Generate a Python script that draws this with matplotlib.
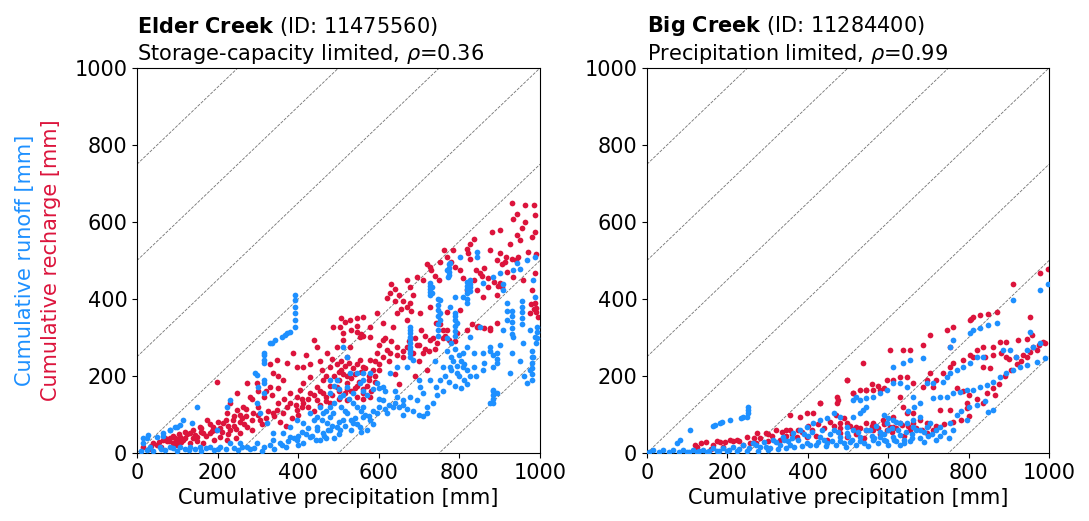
import matplotlib
matplotlib.use('Agg')
import matplotlib.pyplot as plt
import numpy as np

# Elder Creek (ID 11475560): (cumulative precipitation, cumulative flux) in mm
elder_recharge = [
    (930, 650), (963, 644), (986, 644), (942, 622), (934, 609), (988, 618), (880, 575), (900, 579),
    (942, 566), (988, 575), (950, 553), (925, 544), (826, 544), (818, 531), (835, 557), (785, 527),
    (876, 527), (892, 501), (913, 497), (946, 510), (971, 523), (991, 518), (752, 497), (727, 484),
    (801, 475), (851, 467), (810, 454), (835, 449), (900, 441), (934, 458), (958, 449), (988, 467),
    (979, 423), (669, 449), (694, 458), (710, 449), (677, 432), (686, 410), (677, 389), (620, 402),
    (628, 415), (644, 363), (595, 363), (561, 354), (528, 345), (545, 350), (504, 328), (512, 311),
    (545, 315), (578, 328), (611, 337), (636, 328), (669, 345), (702, 363), (727, 380), (768, 367),
    (801, 371), (818, 423), (843, 423), (859, 406), (892, 410), (743, 337), (768, 319), (793, 311),
    (818, 319), (843, 328), (876, 324), (892, 337), (988, 389), (975, 363), (991, 376), (822, 520),
    (826, 505), (955, 585), (962, 600), (980, 560), (918, 470), (905, 490), (860, 480), (870, 430),
    (446, 276), (471, 259), (496, 276), (520, 250), (553, 241), (578, 241), (561, 224), (595, 259),
    (620, 267), (644, 276), (669, 276), (694, 280), (727, 293), (710, 259), (686, 259), (661, 250),
    (628, 259), (611, 293), (578, 302), (553, 302), (528, 276), (479, 224), (462, 189), (446, 172),
    (429, 155), (462, 155), (496, 172), (520, 181), (479, 129), (446, 138), (413, 129), (396, 111),
    (380, 155), (363, 189), (338, 207), (330, 172), (314, 146), (297, 181), (272, 181), (280, 146),
    (247, 155), (264, 120), (231, 129), (223, 103), (198, 185), (247, 111), (347, 111), (338, 103),
    (363, 103), (371, 120), (396, 146), (405, 163), (413, 181), (429, 198), (487, 328), (512, 293),
    (438, 293), (388, 259), (371, 233), (347, 241), (396, 224), (413, 224), (520, 137), (545, 146),
    (561, 155), (578, 146), (540, 205), (505, 215), (470, 200), (455, 240), (420, 255), (600, 230),
    (640, 205), (700, 240), (740, 270), (760, 300), (790, 290), (720, 215), (690, 200), (650, 180),
    (173, 86), (189, 68), (156, 68), (131, 51), (107, 42), (82, 38), (65, 34), (40, 25),
    (16, 16), (214, 77), (231, 59), (206, 42), (181, 51), (148, 42), (115, 34), (90, 25),
    (239, 86), (256, 51), (272, 68), (289, 103), (223, 34), (165, 25), (131, 25), (100, 20),
    (60, 15), (30, 10), (120, 55), (195, 60), (260, 90), (300, 120), (320, 90), (350, 130),
    # denser clusters
    (485, 245), (495, 230), (505, 240), (515, 225), (525, 235), (535, 220), (545, 230), (555, 210),
    (565, 220), (575, 200), (585, 215), (490, 200), (500, 190), (510, 205), (530, 195), (550, 185),
    (570, 175), (590, 185), (480, 175), (500, 160), (520, 165), (540, 170), (560, 140), (580, 160),
    (505, 350), (515, 340), (530, 320), (545, 330), (555, 310), (560, 305), (630, 440), (640, 425),
    (650, 410), (660, 395), (670, 380), (680, 370), (640, 395), (655, 375), (720, 492), (730, 475),
    (740, 460), (750, 449), (762, 527), (770, 510), (780, 495), (790, 484), (840, 475), (855, 460),
    (870, 455), (885, 445), (895, 435), (905, 432), (900, 520), (915, 510), (930, 505), (940, 501),
    (752, 336), (760, 320), (765, 305), (775, 293), (830, 336), (845, 330), (860, 325), (876, 319),
    (978, 388), (985, 375), (990, 365), (995, 354), (600, 280), (615, 300), (630, 290), (705, 320),
    (715, 305), (735, 300), (745, 285), (240, 70), (255, 80), (270, 95), (285, 85), (300, 100),
    (310, 75), (325, 110), (340, 95), (355, 80), (370, 70), (385, 90), (400, 100), (410, 120),
    (425, 140), (440, 110), (455, 125), (470, 145), (150, 30), (170, 45), (190, 35), (210, 55),
    (225, 50), (245, 40), (50, 20), (75, 30), (95, 40), (110, 28), (140, 40), (160, 55),
    (320, 160), (335, 150), (350, 170), (365, 140), (380, 130), (395, 125), (410, 140), (425, 120),
    (440, 150), (455, 160), (470, 135), (485, 150), (500, 140), (515, 155), (530, 160), (545, 175),
    (560, 165), (575, 190), (590, 200), (600, 215), (520, 200), (500, 210), (460, 215), (430, 230),
    (350, 200), (330, 230), (300, 160), (285, 140), (270, 115), (255, 100), (240, 95), (220, 85),
    (200, 80), (180, 75), (160, 65), (140, 60), (125, 50), (105, 50), (90, 45), (70, 40),
    (35, 18), (55, 28), (80, 32), (100, 35), (120, 40), (145, 48), (165, 52), (185, 58),
    (205, 65), (225, 70), (245, 62), (265, 75), (285, 60), (305, 85), (590, 240), (610, 250),
    (625, 240), (645, 255), (660, 265), (675, 290), (690, 300), (700, 280), (715, 270), (725, 265),
]
elder_runoff = [
    (988, 510), (967, 501), (942, 493), (934, 475), (950, 479), (900, 467), (884, 458), (859, 441),
    (843, 523), (843, 510), (826, 449), (826, 432), (818, 415), (810, 406), (789, 406), (777, 493),
    (768, 475), (772, 458), (801, 510), (727, 441), (731, 415), (731, 432), (752, 397), (752, 363),
    (752, 345), (777, 380), (789, 363), (793, 337), (851, 328), (826, 302), (818, 276), (810, 259),
    (835, 259), (859, 259), (876, 276), (892, 259), (884, 224), (859, 215), (835, 224), (810, 224),
    (793, 207), (777, 224), (760, 224), (752, 189), (743, 172), (727, 189), (710, 155), (702, 172),
    (694, 137), (677, 146), (661, 137), (644, 146), (636, 120), (620, 103), (611, 137), (595, 103),
    (578, 86), (561, 94), (553, 68), (537, 77), (520, 103), (512, 86), (496, 68), (479, 59),
    (462, 51), (446, 68), (429, 42), (413, 25), (396, 34), (380, 42), (355, 25), (338, 34),
    (314, 16), (297, 25), (272, 16), (909, 423), (917, 389), (917, 345), (909, 319), (934, 302),
    (958, 285), (975, 319), (988, 302), (991, 285), (983, 250), (975, 215), (979, 189), (967, 181),
    (925, 207), (884, 163), (876, 129), (892, 155), (983, 449), (988, 406), (917, 370), (909, 440),
    (677, 328), (677, 302), (677, 276), (686, 241), (669, 224), (644, 224), (628, 207), (611, 172),
    (595, 181), (578, 207), (561, 207), (553, 181), (537, 155), (520, 172), (504, 146), (479, 120),
    (462, 103), (446, 94), (429, 103), (413, 77), (396, 86), (380, 68), (363, 51), (338, 51),
    (322, 77), (305, 103), (297, 129), (314, 155), (314, 181), (293, 207), (231, 137), (223, 120),
    (148, 120), (115, 86), (99, 68), (82, 60), (65, 51), (49, 42), (24, 38), (16, 25),
    (32, 16), (57, 16), (82, 16), (107, 16), (131, 16), (156, 16), (181, 16), (206, 16),
    (231, 25), (256, 25), (512, 276), (520, 250), (528, 207), (545, 207), (561, 189), (496, 189),
    (479, 155), (454, 120), (438, 86), (446, 60), (471, 77), (487, 103), (470, 40), (500, 50),
    (530, 60), (560, 120), (600, 140), (640, 160), (700, 190), (740, 240), (780, 250), (820, 180),
    (840, 200), (860, 235), (900, 280), (930, 260), (950, 240), (960, 200), (720, 120), (660, 100),
    (314, 259), (314, 241), (330, 285), (334, 285), (359, 302), (371, 311), (392, 410), (392, 397),
    (392, 380), (392, 363), (392, 345), (392, 328), (314, 189), (301, 172), (16, 38), (28, 47),
    (65, 43), (82, 60), (94, 68), (107, 73), (136, 79), (198, 60), (297, 203), (314, 233),
    (314, 255), (343, 294), (367, 307), (380, 315), (10, 5), (40, 5), (70, 8), (100, 5),
    (130, 8), (160, 5), (190, 8), (220, 10), (250, 8), (280, 10), (310, 5), (340, 10),
    (370, 15), (400, 20), (420, 50), (455, 34), (480, 93), (504, 60), (490, 40), (540, 90),
    # vertical streaks and dense cluster
    (677, 320), (677, 312), (677, 295), (677, 287), (677, 268), (677, 260), (677, 250),
    (727, 435), (727, 425), (727, 418), (727, 410), (748, 400), (748, 385), (748, 372), (748, 355),
    (748, 335), (748, 320), (748, 305), (773, 490), (773, 480), (773, 470), (773, 462), (789, 355),
    (789, 345), (789, 330), (789, 318), (789, 305), (818, 445), (818, 435), (818, 425), (818, 400),
    (818, 390), (826, 440), (826, 420), (770, 300), (780, 285), (790, 270), (800, 255), (805, 240),
    (812, 230), (820, 215), (826, 200), (770, 265), (785, 240), (795, 225), (800, 200), (812, 190),
    (780, 215), (765, 200), (775, 185), (790, 175), (805, 168), (876, 265), (884, 255), (893, 245),
    (893, 235), (930, 370), (930, 355), (930, 340), (930, 325), (930, 310), (955, 395), (955, 380),
    (955, 365), (955, 350), (955, 335), (979, 265), (979, 250), (979, 235), (979, 220), (979, 205),
    (992, 328), (992, 315), (992, 300), (884, 160), (884, 150), (884, 140), (884, 130),
    (480, 190), (490, 175), (500, 165), (510, 150), (525, 140), (535, 130), (545, 120), (555, 110),
    (565, 100), (575, 95), (585, 110), (600, 120), (615, 115), (625, 125), (640, 130), (650, 120),
    (660, 125), (670, 115), (685, 110), (700, 100), (710, 95), (720, 105), (735, 130), (745, 150),
    (760, 160), (560, 160), (570, 150), (585, 165), (600, 170), (615, 160), (490, 130), (505, 120),
    (515, 110), (470, 110), (460, 85), (475, 60), (485, 70), (500, 80), (515, 70), (530, 85),
    (545, 75), (555, 55), (570, 60), (585, 75), (400, 45), (410, 55), (425, 65), (435, 45),
    (445, 35), (465, 45), (360, 20), (375, 30), (390, 40), (330, 20), (290, 12), (260, 15),
    (240, 12), (200, 10), (170, 12), (145, 10), (120, 10), (90, 12), (60, 10), (25, 8),
]

# Big Creek (ID 11284400)
big_recharge = [
    (998, 479), (977, 468), (911, 440), (953, 354), (870, 367), (849, 362), (828, 358), (807, 349),
    (803, 345), (812, 354), (762, 328), (745, 319), (986, 289), (957, 306), (944, 297), (923, 293),
    (894, 289), (878, 289), (861, 276), (836, 276), (820, 267), (803, 254), (787, 241), (762, 233),
    (754, 224), (737, 207), (720, 189), (704, 207), (696, 189), (712, 172), (687, 172), (662, 181),
    (646, 198), (629, 198), (613, 189), (596, 189), (580, 163), (563, 163), (546, 163), (530, 163),
    (513, 155), (497, 189), (538, 233), (604, 267), (637, 267), (654, 267), (687, 280), (704, 306),
    (754, 276), (894, 250), (919, 250), (936, 254), (953, 263), (969, 267), (845, 155), (866, 150),
    (836, 224), (853, 220), (812, 250), (795, 129), (795, 116), (754, 111), (729, 111), (629, 146),
    (637, 120), (646, 103), (662, 103), (679, 85), (696, 77), (613, 94), (588, 85), (563, 77),
    (546, 77), (521, 68), (497, 77), (480, 77), (472, 129), (472, 146), (430, 129), (413, 103),
    (397, 103), (380, 94), (356, 98), (347, 59), (322, 59), (297, 51), (273, 51), (248, 42),
    (223, 33), (206, 33), (182, 29), (148, 29), (124, 16), (480, 51), (497, 42), (447, 33),
    (397, 42), (372, 42), (356, 59), (563, 59), (596, 59), (613, 68), (629, 77), (654, 59),
    (662, 77), (696, 51), (712, 59), (300, 30), (330, 35), (420, 45), (520, 50), (540, 40),
    (580, 50), (610, 55), (640, 45), (240, 20), (270, 25), (160, 10), (190, 15),
    # denser bands
    (120, 20), (135, 25), (165, 22), (175, 30), (195, 28), (215, 30), (230, 32), (256, 25),
    (265, 38), (280, 40), (300, 50), (310, 45), (335, 55), (345, 45), (360, 50), (375, 60),
    (385, 55), (400, 70), (410, 60), (425, 75), (440, 65), (455, 80), (465, 70), (480, 65),
    (470, 100), (490, 90), (505, 70), (515, 62), (530, 65), (545, 60), (560, 70), (575, 66),
    (590, 75), (605, 68), (620, 65), (635, 72), (650, 70), (670, 65), (685, 60), (700, 70),
    (430, 129), (476, 138), (497, 190), (513, 155), (546, 164), (720, 70), (740, 75), (760, 80),
    (780, 85), (800, 95), (770, 170), (785, 160), (800, 150), (820, 140), (835, 130), (860, 170),
    (875, 180), (890, 200), (905, 215), (920, 230), (930, 240), (945, 250), (960, 275), (975, 280),
    (990, 285), (840, 250), (860, 255), (880, 260), (900, 245), (560, 180), (575, 175), (590, 170),
]
big_runoff = [
    (998, 440), (977, 423), (911, 397), (953, 315), (977, 285), (961, 276), (944, 267), (990, 246),
    (969, 237), (944, 228), (928, 224), (911, 215), (894, 207), (878, 198), (861, 185), (845, 176),
    (828, 172), (812, 163), (795, 163), (779, 159), (762, 155), (745, 146), (729, 146), (712, 142),
    (870, 337), (849, 332), (828, 324), (812, 319), (803, 311), (762, 293), (754, 276), (903, 267),
    (886, 267), (919, 250), (836, 250), (820, 250), (803, 233), (787, 224), (771, 215), (754, 207),
    (745, 198), (737, 185), (712, 181), (696, 181), (687, 246), (654, 241), (637, 233), (613, 224),
    (613, 181), (629, 181), (646, 172), (596, 163), (580, 155), (563, 146), (546, 142), (530, 137),
    (513, 137), (662, 146), (861, 111), (849, 107), (795, 85), (754, 77), (729, 68), (704, 77),
    (679, 94), (662, 85), (662, 68), (679, 59), (696, 68), (646, 77), (629, 77), (613, 85),
    (596, 77), (546, 120), (538, 111), (530, 103), (521, 146), (513, 94), (480, 94), (464, 103),
    (447, 90), (430, 85), (413, 77), (397, 68), (380, 59), (364, 51), (339, 42), (314, 33),
    (290, 29), (264, 25), (240, 20), (215, 16), (190, 12), (165, 12), (140, 9), (115, 7),
    (90, 7), (65, 7), (41, 7), (16, 7), (252, 120), (252, 103), (248, 94), (235, 90),
    (206, 85), (186, 81), (169, 72), (107, 59), (82, 33), (74, 25), (480, 42), (497, 51),
    (530, 42), (563, 33), (580, 42), (613, 42), (629, 46), (447, 25), (397, 25), (356, 20),
    (297, 16), (430, 42), (464, 59), (497, 68), (513, 59), (546, 59), (580, 55), (5, 2),
    (30, 3), (55, 3), (80, 3), (105, 3), (130, 4), (155, 5), (180, 6), (205, 8),
    (230, 10), (255, 12), (280, 15), (305, 12), (330, 20), (350, 30), (375, 35), (400, 45),
    (420, 20), (440, 35), (460, 30), (490, 25), (510, 35), (540, 25), (560, 45), (590, 35),
    (600, 60), (620, 30), (640, 35), (660, 50), (680, 40), (700, 45), (720, 60), (740, 55),
    # denser band near the bottom
    (165, 69), (181, 79), (240, 93), (252, 112), (100, 2), (125, 3), (150, 3), (175, 4),
    (200, 4), (225, 5), (250, 5), (275, 6), (300, 8), (325, 10), (345, 12), (365, 15),
    (385, 18), (405, 22), (425, 28), (445, 18), (470, 20), (495, 15), (520, 22), (550, 18),
    (575, 25), (600, 20), (630, 22), (655, 30), (690, 28), (720, 35), (750, 40), (270, 20),
    (320, 28), (340, 35), (360, 40), (390, 50), (410, 55), (435, 60), (455, 50), (475, 55),
    (500, 45), (525, 55), (555, 60), (570, 70), (590, 50), (610, 65), (625, 60), (645, 55),
    (670, 60), (690, 55), (710, 50), (730, 45), (760, 60), (620, 80), (600, 90), (590, 100),
    (480, 30), (505, 28), (530, 30), (565, 40), (595, 30), (615, 35), (640, 25), (660, 40),
    (770, 100), (780, 110), (800, 120), (820, 125), (840, 135), (650, 110), (665, 120), (680, 130),
]

panels = [
    ('Elder\\ Creek', '11475560', 'Storage-capacity limited', 0.36, elder_runoff, elder_recharge),
    ('Big\\ Creek', '11284400', 'Precipitation limited', 0.99, big_runoff, big_recharge),
]
offsets = [-750, -500, -250, 0, 250, 500, 750]

blue = '#1E90FF'
red = '#DC143C'

plt.rcParams['font.size'] = 15
fig = plt.figure(figsize=(10.89, 5.21), dpi=100)
ax_pos = [[0.1258, 0.1305, 0.3701, 0.739], [0.5941, 0.1305, 0.3692, 0.739]]

for i, (name, sid, regime, rho, runoff, recharge) in enumerate(panels):
    ax = fig.add_axes(ax_pos[i])
    for c in offsets:
        ax.plot([0, 1000], [c, 1000 + c], ls='--', color='0.45', lw=0.6, zorder=1)
    rx, ry = zip(*recharge)
    ax.scatter(rx, ry, s=17, color=red, linewidths=0, zorder=2)
    qx, qy = zip(*runoff)
    ax.scatter(qx, qy, s=17, color=blue, linewidths=0, zorder=3)
    ax.set_xlim(0, 1000)
    ax.set_ylim(0, 1000)
    ax.set_xticks([0, 200, 400, 600, 800, 1000])
    ax.set_yticks([0, 200, 400, 600, 800, 1000])
    ax.set_xlabel('Cumulative precipitation [mm]')
    ax.set_title(r'$\bf{' + name + '}$ (ID: ' + sid + ')\n' + regime + r', $\rho$=' + f'{rho:.2f}',
                 loc='left', fontsize=15, pad=6)

fig.text(0.023, 0.5, 'Cumulative runoff [mm]', color=blue, rotation=90, va='center', ha='center', fontsize=15)
fig.text(0.047, 0.5, 'Cumulative recharge [mm]', color=red, rotation=90, va='center', ha='center', fontsize=15)

fig.savefig('out.png', dpi=100)
